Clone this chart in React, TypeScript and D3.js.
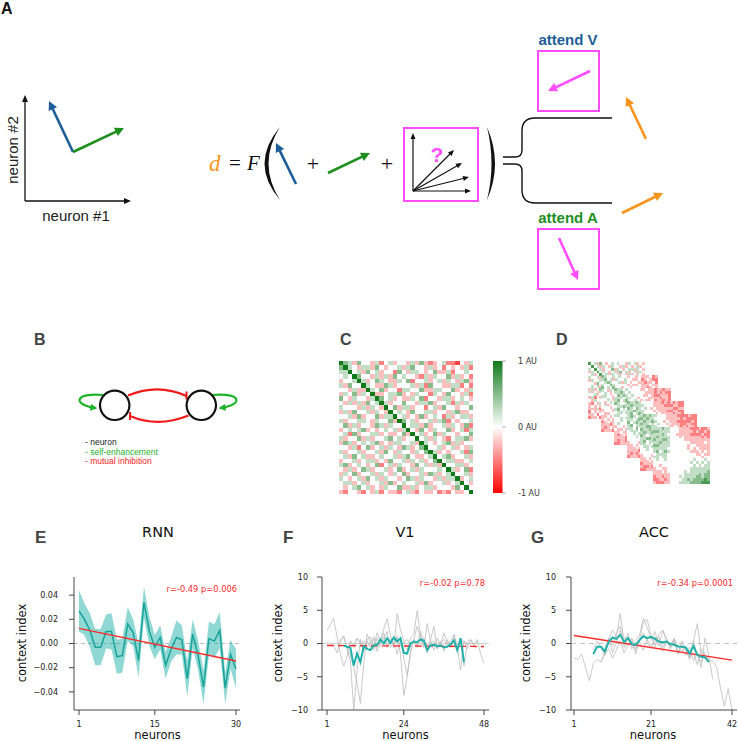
import React from "react";
import * as d3 from "d3";

// ================= DATA =================
// Panel E (RNN): mean context index per neuron and half-width of shaded band
const rnnMean = [0.027, 0.020, 0.011, -0.003, -0.003, 0.010, 0.010, -0.011, -0.010, 0.016,
  0.009, -0.014, 0.034, 0.010, -0.003, 0.005, -0.018, -0.005, 0.005, 0.003,
  -0.029, 0.008, -0.010, -0.036, 0.004, 0.002, 0.011, -0.037, -0.009, -0.021];
const rnnHalfBand = [0.017, 0.013, 0.014, 0.015, 0.015, 0.014, 0.015, 0.014, 0.014, 0.014,
  0.011, 0.014, 0.013, 0.012, 0.010, 0.010, 0.011, 0.010, 0.014, 0.012,
  0.015, 0.012, 0.012, 0.014, 0.014, 0.014, 0.015, 0.013, 0.012, 0.016];
const rnnFit = [0.0125, -0.0145];
const rnnTicksX = [1, 15, 30];
const rnnTicksY = [-0.04, -0.02, 0, 0.02, 0.04];
const rnnStat = "r=-0.49 p=0.006";

// Panel F (V1)
const v1MeanStart = 6;
const v1Mean = [-0.3, -0.5, -0.6, -3.3, -1.5, -2.8, -0.4, -0.8, -1.0, -0.3,
  -0.2, 0.6, 0.0, 0.8, 0.1, 0.9, 0.3, 0.8, -1.4, -1.5,
  0.0, 0.3, 0.2, 0.6, 0.4, -1.0, -0.3, -0.2, -0.4, -0.3,
  -0.6, -0.5, -0.1, 0.5, -1.0, 0.8, -2.8];
const v1Sessions = [
  { start: 1, values: [2.0, 2.8, 3.8, 1.0, -1.6, -3.4, -2.0, 0.4, -0.6, 0.8, 0.2, -1.2, 0.6, 1.0, -0.4, 1.6, 0.4, 2.2, 3.7, 1.2, -0.6, 4.5, 2.0, 0.4, -1.0, 0.8, 1.4, 4.9, 1.2, -0.4] },
  { start: 3, values: [-0.4, -1.4, 0.6, 1.2, -0.8, -2.6, -10.0, -4.0, 0.6, -0.8, 0.4, -0.6, 1.0, -1.2, 0.2, 1.6, -0.4, 0.8, -0.2, 1.2, -1.6, -7.8, -5.0, -1.2, 0.6, -0.4, 1.8, 0.2, -1.4, 0.6, 2.6, -0.8, 0.4, -1.2, 0.6, -0.6, 1.4, -0.4, -4.0, 0.4, -0.8, 0.6, -0.2, 0.4] },
  { start: 5, values: [0.2, 1.0, -0.6, -1.8, -3.6, -6.0, -9.0, -3.0, 1.4, 0.2, -1.0, 0.8, -0.4, 0.6, 1.8, -0.6, 0.2, -1.6, 0.4, -2.2, -4.8, -1.4, 0.6, 2.6, 0.8, -0.6, 3.0, 0.4, -1.0, 0.8, -0.4, 1.6, 0.2, -0.6, 0.4, -1.2, 0.6, -3.4, 0.2, 0.6, -0.4, 0.6, -1.6, -3.0] },
  { start: 8, values: [0.4, -0.4, 0.8, -0.2, 0.4, -0.6, 0.2, 0.6, -0.4, 0.2, 1.0, -0.6, 0.4, -0.2, 0.8, -0.4, 0.2, 0.6, -0.2, 0.4, -0.6, 0.2, 0.8, -0.4, 0.2, 0.4, -0.8, 0.2, 0.6, -0.2, 0.4, 1.2, -0.6, 0.2, 0.4, -0.2, 0.2] },
];
const v1Fit = [-0.3, -0.45];
const v1TicksX = [1, 24, 48];
const v1Stat = "r=-0.02 p=0.78";

// Panel G (ACC)
const accMeanStart = 6;
const accMean = [-1.6, -0.5, -0.5, -1.2, 0.2, 0.9, 0.7, 1.3, 0.2, 0.8,
  -0.1, -0.2, 0.5, 1.1, 0.8, 1.0, 0.7, 0.3, 0.2, 0.3,
  -0.1, -0.2, -0.45, -0.5, -0.6, -1.5, -0.4, -1.7, -2.0, -2.1, -2.8];
const accSessions = [
  { start: 1, values: [-2.2, -2.4, -1.6, -3.6, -5.6, -3.0, -2.4, -2.8, -1.6, -0.8, -2.2, -1.0, 0.4, -1.4, -0.2, 0.8, -0.6, 0.2, -1.0, 0.6, -0.4, 0.2, 1.0, -0.6, 0.4, -0.8, 0.6, -0.2, -1.2, -0.6, -2.0, 0.4, 3.0, -1.4, -1.6, -2.6, -2.6, -3.6, -6.6, -9.4, -6.8, -10.0] },
  { start: 6, values: [-1.0, 0.4, -0.6, -1.8, 0.6, 2.0, 1.0, 4.5, 0.2, 1.6, -0.8, 0.4, 1.2, 3.8, 2.4, 0.6, 1.8, -0.4, 2.0, 0.8, -0.6, 0.2, -1.2, -0.4, -1.8, -0.6, -2.6, -1.4, -3.6, 0.8, -1.8, -5.4] },
  { start: 8, values: [-2.8, -1.2, 0.8, -0.4, 1.6, 2.6, -0.6, 1.0, 0.2, -1.0, 0.6, 3.2, 3.6, 1.2, -0.6, 1.4, 2.0, 0.4, -0.2, 0.8, -1.6, 0.4, -1.0, -2.2, -1.4, -3.2, -0.8, -2.0, -2.4] },
  { start: 9, values: [-0.6, 0.8, -1.4, 0.2, 2.0, 1.0, -0.2, 0.6, -1.6, 0.4, 1.6, 0.2, -0.8, 1.0, 0.4, -1.2, 0.2, -0.4, 0.6, -1.6, -0.2, -0.8, -2.4, 0.4, -1.8, -2.8, -1.2] },
];
const accFit = [1.2, -2.5];
const accTicksX = [1, 21, 42];
const accStat = "r=-0.34 p=0.0001";
const sessionTicksY = [-10, -5, 0, 5, 10];

// Panel C: connectivity matrix, levels 0..8 (0 = -1 AU, 4 = 0 AU, 8 = 1 AU)
const cMatrix = [
  "86536 44352 45344 35363 23452 21435",
  "68543 55364 34453 56443 53424 34352",
  "55845 36453 44264 35543 46335 24454",
  "45486 44353 53645 44325 35446 35342",
  "34458 53465 43354 62445 34535 43563",
  "53644 85433 65344 45352 64433 55242",
  "44353 38546 34425 54463 35544 63435",
  "35463 54833 45563 43544 25436 44352",
  "64354 43586 45343 35462 44355 34543",
  "43535 36458 53446 44355 63445 25354",
  "54443 53543 84635 53442 45364 43446",
  "35364 45354 38454 36445 53443 56334",
  "44536 34463 55845 34363 45425 34553",
  "53445 54354 46386 45344 53562 43445",
  "46353 44365 35448 45536 34453 54362",
  "34545 63434 54535 84364 35446 34525",
  "45263 44553 43346 38453 46354 43446",
  "53446 35344 56453 44845 35432 45563",
  "36534 54563 43554 45385 43456 35344",
  "44352 46345 35436 53468 44534 53435",
  "53445 34453 64354 43546 85343 44526",
  "45364 53345 44535 64334 58456 34453",
  "34453 45534 36445 35453 46845 53345",
  "56345 43462 45354 43645 35384 45534",
  "43534 65344 53463 45354 44548 53462",
  "35463 44535 43546 34453 65345 84453",
  "54345 36453 54434 65354 43535 58345",
  "45534 53445 36345 44536 34453 45843",
  "43456 45343 54463 35345 53444 36484",
  "32443 24352 43324 53243 34232 43348",
];
const cbTicks = [-1, 0, 1];
const cbLabels = ["-1 AU", "0 AU", "1 AU"];

// Panel D: stacked matrices (back to front); back ones only their visible strips
const dStack0 = [
  "74536 43454 54435 45343", "47453 54354 43534 34534", "54745 34463 54345 53543",
  "35474 54345 36453 45354", "45347 45354 53435 34543",
  "54453", "35445", "44364", "45453", "35346", "53435", "44534", "35243", "43544",
  "32435", "34343", "33352", "24343", "33424", "23342"];
const dStack1 = [
  "65445 45443 44343 33423", "56453 54454 43342 34322", "45654 45354 34433 23342",
  "54465 44443 43343 33433", "64546 44344 34443 32343",
  "54354", "45434", "55443", "44543", "43454", "45344", "44434", "34443", "43344",
  "33434", "34343", "23433", "33323", "32343", "23332"];
const dStack2 = [
  "65545 44443 34332 33233", "55654 54444 43332 32322", "46565 45444 33432 23332",
  "55545 54434 44333 32332", "56456 44543 43342 33232",
  "65445", "45565", "56454", "45545", "55444", "44545", "44544", "45444", "34434",
  "43343", "33433", "32343", "33332", "32332", "22333"];
const dStack3 = [
  "65565 44443 33232 32322", "56555 54443 33322 23322", "65465 45434 33333 32233",
  "55655 54443 43332 23322", "56456 54444 34333 32332",
  "56545", "55456", "64565", "56455", "55464", "45554", "44545", "44454", "44444",
  "34443", "33434", "33343", "33332", "32323", "23332"];
const dStack4 = [
  "56565 54443 33322 22322", "65655 44443 33332 32222", "56556 54434 33322 22232",
  "65545 45443 43332 23322", "55665 54444 33432 32332",
  "65565", "56556", "65455", "55665", "56455", "55454", "45545", "44544", "44444",
  "34443", "33434", "33343", "23333", "32232", "22333"];
const dStack5 = [
  "55565 54443 33322 23223", "66555 54443 33332 32232", "55565 44433 33322 22322",
  "56555 54443 43333 33232", "65566 54444 43333 33333", "55655 54444 44433 33343",
  "66555 54444 44344 33333", "55555 44444 44343 43333", "56456 54444 44433 34343",
  "45555 44444 44444 33433", "55455 44444 44444 44344", "45445 44444 44445 44454",
  "44444 44444 44454 54545", "44344 44444 44445 45455", "34433 44444 44455 55555",
  "33343 44444 45455 55556", "33333 34444 45555 56566", "23323 34445 45555 66566",
  "22332 34444 55656 66676", "32223 34445 55566 66777"];
const dStacks = [dStack0, dStack1, dStack2, dStack3, dStack4, dStack5];

// Panel A: diagram vectors [dx, dy]
const visualVec = [-24, -51];
const auditoryVec = [51, -24];
const eqVisualVec = [-20, -41];
const eqAuditoryVec = [42, -20];
const contextFan = [[41, -41], [49, -28], [56, -14], [58, 0]];
const attendVVec = [-42, 20];
const attendAVec = [19, 42];
const decisionVVec = [-20, -42];
const decisionAVec = [41, -20];

// ================= COLORS =================
const BLUE = "#1d5e99";
const GREEN = "#1e8f1e";
const ORANGE = "#f7941d";
const MAGENTA = "#ff4dff";
const TEAL = "#20b2aa";
const TEAL_LINE = "#17a398";
const RED = "#ff2b2b";
const GREY_TRACE = "#bdbdbd";
const SANS = "'Liberation Sans', Arial, sans-serif";
const DV = "'DejaVu Sans', sans-serif";

const heatColor = (lvl: number) => {
  const v = (lvl - 4) / 4;
  return v >= 0
    ? d3.interpolateRgb("#ffffff", "#10791a")(v)
    : d3.interpolateRgb("#ffffff", "#ff0000")(-v);
};
const parseRow = (s: string) => s.replace(/\s/g, "").split("").map(Number);

function Arrow({ x, y, v, color, w = 2.6, head = 9, hw = 4.6 }: any) {
  const x2 = x + v[0], y2 = y + v[1];
  const L = Math.hypot(v[0], v[1]);
  const ux = v[0] / L, uy = v[1] / L;
  const bx = x2 - ux * head, by = y2 - uy * head;
  const px = -uy, py = ux;
  return (
    <g>
      <line x1={x} y1={y} x2={bx + ux} y2={by + uy} stroke={color} strokeWidth={w} />
      <polygon points={`${x2},${y2} ${bx + px * hw},${by + py * hw} ${bx - px * hw},${by - py * hw}`} fill={color} />
    </g>
  );
}

function PanelA() {
  const ox = 73, oy = 152;
  const fx = 413, fy = 191;
  return (
    <g>
      <text x={1} y={14} fontFamily={SANS} fontWeight="bold" fontSize={16} fill="#111">A</text>
      <line x1={25} y1={201} x2={25} y2={101} stroke="#111" strokeWidth={1.3} />
      <polygon points="25,95 22,102 28,102" fill="#111" />
      <line x1={25} y1={201} x2={124} y2={201} stroke="#111" strokeWidth={1.3} />
      <polygon points="131,201 124,198 124,204" fill="#111" />
      <Arrow x={ox} y={oy} v={visualVec} color={BLUE} />
      <Arrow x={ox} y={oy} v={auditoryVec} color={GREEN} />
      <text transform="translate(13,150) rotate(-90)" textAnchor="middle" dy="0.35em" fontFamily={SANS} fontSize={15} fill="#222">neuron #2</text>
      <text x={76} y={221} textAnchor="middle" fontFamily={SANS} fontSize={15} fill="#222">neuron #1</text>

      <text x={209} y={171} fontFamily="'Liberation Serif', serif" fontStyle="italic" fontSize={23} fill={ORANGE}>d</text>
      <text x={229} y={170} fontFamily="'Liberation Serif', serif" fontSize={21} fill="#111">=</text>
      <text x={247} y={170} fontFamily="'Liberation Serif', serif" fontStyle="italic" fontSize={21} fill="#111">F</text>
      <path d="M280,127 Q249,163.5 280,200 Q257,163.5 280,127 Z" fill="#111" />
      <Arrow x={296} y={184} v={eqVisualVec} color={BLUE} />
      <text x={313} y={171} textAnchor="middle" fontFamily="'Liberation Serif', serif" fontSize={22} fill="#111">+</text>
      <Arrow x={328} y={173} v={eqAuditoryVec} color={GREEN} />
      <text x={387} y={171} textAnchor="middle" fontFamily="'Liberation Serif', serif" fontSize={22} fill="#111">+</text>
      <rect x={404} y={128} width={74} height={73} fill="none" stroke={MAGENTA} strokeWidth={2} />
      <line x1={fx} y1={fy} x2={fx} y2={138} stroke="#111" strokeWidth={1.2} />
      <polygon points={`${fx},133 ${fx - 2.5},139 ${fx + 2.5},139`} fill="#111" />
      {contextFan.map((v, i) => (
        <Arrow key={i} x={fx} y={fy} v={v} color="#111" w={1.2} head={6} hw={2.6} />
      ))}
      <text x={437} y={162} textAnchor="middle" fontFamily={SANS} fontWeight="bold" fontSize={21} fill={MAGENTA}>?</text>
      <path d="M487,127 Q503,163.5 487,200 Q496,163.5 487,127 Z" fill="#111" />

      <path d="M612,118 L535,118 Q522,118 522,131 L522,150 Q522,157 515,157 L503,157 M503,164 L515,164 Q522,164 522,171 L522,190 Q522,203 535,203 L612,203"
        fill="none" stroke="#111" strokeWidth={1.4} />

      <text x={568} y={45} textAnchor="middle" fontFamily={SANS} fontWeight="bold" fontSize={15} fill={BLUE}>attend V</text>
      <rect x={538} y={51} width={61} height={60} fill="none" stroke={MAGENTA} strokeWidth={2} />
      <Arrow x={590} y={71} v={attendVVec} color={MAGENTA} />
      <text x={568} y={223} textAnchor="middle" fontFamily={SANS} fontWeight="bold" fontSize={15} fill={GREEN}>attend A</text>
      <rect x={538} y={229} width={61} height={60} fill="none" stroke={MAGENTA} strokeWidth={2} />
      <Arrow x={559} y={238} v={attendAVec} color={MAGENTA} />
      <Arrow x={646} y={139} v={decisionVVec} color={ORANGE} />
      <Arrow x={622} y={213} v={decisionAVec} color={ORANGE} />
    </g>
  );
}

function PanelB() {
  const lx = 114.7, rx = 201.3, cy = 405.3, r = 14.7;
  return (
    <g>
      <defs>
        <marker id="gh" viewBox="0 0 10 10" refX="8" refY="5" markerWidth="3.2" markerHeight="3.2" orient="auto">
          <path d="M0,0 L10,5 L0,10 Z" fill="#1db32a" />
        </marker>
      </defs>
      <text x={34} y={345} fontFamily={SANS} fontWeight="bold" fontSize={16} fill="#444">B</text>
      <path d="M128,395.5 Q158,383 186.5,396" fill="none" stroke="#f21b1b" strokeWidth={2.2} />
      <line x1={186.5} y1={391.5} x2={186.5} y2={399.5} stroke="#f21b1b" strokeWidth={2} />
      <path d="M188.5,415.5 Q158,428 130,416" fill="none" stroke="#f21b1b" strokeWidth={2.2} />
      <line x1={130} y1={412} x2={130} y2={420} stroke="#f21b1b" strokeWidth={2} />
      <path d="M104,395 C74,392 72,405 96,408" fill="none" stroke="#1db32a" strokeWidth={2.2} markerEnd="url(#gh)" />
      <path d="M212,395 C242,392 244,405 220,408" fill="none" stroke="#1db32a" strokeWidth={2.2} markerEnd="url(#gh)" />
      <circle cx={lx} cy={cy} r={r} fill="none" stroke="#111" strokeWidth={2.2} />
      <circle cx={rx} cy={cy} r={r} fill="none" stroke="#111" strokeWidth={2.2} />
      <text x={85} y={445} fontFamily={SANS} fontSize={8.5} fill="#222">- neuron</text>
      <text x={85} y={454.5} fontFamily={SANS} fontSize={8.5} fill="#1db32a">- self-enhancement</text>
      <text x={85} y={464} fontFamily={SANS} fontSize={8.5} fill="#f21b1b">- mutual inhibition</text>
    </g>
  );
}

function PanelC() {
  const n = cMatrix.length;
  const colBand = d3.scaleBand<number>().domain(d3.range(n)).range([339, 473]);
  const rowBand = d3.scaleBand<number>().domain(d3.range(n)).range([361, 494]);
  const cbY = d3.scaleLinear().domain([-1, 1]).range([493, 361]);
  return (
    <g>
      <defs>
        <linearGradient id="cbar" x1="0" y1="0" x2="0" y2="1">
          <stop offset="0%" stopColor={heatColor(8)} />
          <stop offset="50%" stopColor={heatColor(4)} />
          <stop offset="100%" stopColor={heatColor(0)} />
        </linearGradient>
      </defs>
      <text x={340} y={345} fontFamily={SANS} fontWeight="bold" fontSize={16} fill="#444">C</text>
      <g shapeRendering="crispEdges">
        {cMatrix.map((row, i) =>
          parseRow(row).map((lvl, j) => (
            <rect key={`${i}-${j}`} x={colBand(j)} y={rowBand(i)} width={colBand.bandwidth() + 0.4} height={rowBand.bandwidth() + 0.4} fill={heatColor(lvl)} />
          ))
        )}
      </g>
      <rect x={493} y={cbY(1)} width={9.5} height={cbY(-1) - cbY(1)} fill="url(#cbar)" />
      {cbTicks.map((t, i) => (
        <g key={t}>
          <line x1={502.5} x2={505.5} y1={cbY(t)} y2={cbY(t)} stroke="#888" strokeWidth={0.8} />
          <text x={518} y={cbY(t)} dy="0.35em" fontFamily={DV} fontSize={8} fill="#333">{cbLabels[i]}</text>
        </g>
      ))}
    </g>
  );
}

function PanelD() {
  const size = 57, step = 13, n = 20, cs = size / n;
  return (
    <g>
      <text x={556} y={345} fontFamily={SANS} fontWeight="bold" fontSize={16} fill="#444">D</text>
      <g shapeRendering="crispEdges">
        {dStacks.map((m, k) => {
          const x0 = 588 + step * k, y0 = 362 + step * k;
          return (
            <g key={k}>
              <rect x={x0} y={y0} width={size} height={size} fill="#fff" />
              {m.map((row, i) =>
                parseRow(row).map((lvl, j) => (
                  <rect key={`${i}-${j}`} x={x0 + j * cs} y={y0 + i * cs} width={cs + 0.3} height={cs + 0.3} fill={heatColor(lvl)} />
                ))
              )}
            </g>
          );
        })}
      </g>
    </g>
  );
}

function LinePanel(props: any) {
  const { label, labelX, title, titleX, axisX, axisRight, xDomain, xRange, yDomain, xTicks, yTicks, yFmt,
    ylabelX, statX, statY, stat, children, tickGap } = props;
  const x = d3.scaleLinear().domain(xDomain).range(xRange);
  const y = d3.scaleLinear().domain(yDomain).range([710, 577]);
  return (
    <g>
      <text x={labelX} y={543} fontFamily={SANS} fontWeight="bold" fontSize={17} fill="#444">{label}</text>
      <text x={titleX} y={537} textAnchor="middle" fontFamily={DV} fontSize={14.5} fill="#111">{title}</text>
      {children(x, y)}
      <line x1={axisX} x2={axisX} y1={577} y2={710} stroke="#333" strokeWidth={0.9} />
      <line x1={axisX} x2={axisRight} y1={710} y2={710} stroke="#333" strokeWidth={0.9} />
      {yTicks.map((t: number) => (
        <g key={t}>
          <line x1={axisX - 5} x2={axisX} y1={y(t)} y2={y(t)} stroke="#333" strokeWidth={0.9} />
          <text x={axisX - tickGap} y={y(t)} dy="0.35em" textAnchor="end" fontFamily={DV} fontSize={8} fill="#222">{yFmt(t)}</text>
        </g>
      ))}
      {xTicks.map((t: number) => (
        <g key={t}>
          <line x1={x(t)} x2={x(t)} y1={710} y2={715} stroke="#333" strokeWidth={0.9} />
          <text x={x(t)} y={727} textAnchor="middle" fontFamily={DV} fontSize={8} fill="#222">{t}</text>
        </g>
      ))}
      <text transform={`translate(${ylabelX},643) rotate(-90)`} textAnchor="middle" dy="0.35em" fontFamily={DV} fontSize={11.5} fill="#111">context index</text>
      <text x={(xRange[0] + xRange[1]) / 2} y={739} textAnchor="middle" fontFamily={DV} fontSize={11.5} fill="#111">neurons</text>
      <text x={statX} y={statY} textAnchor="end" fontFamily={DV} fontSize={8.3} fill={RED}>{stat}</text>
    </g>
  );
}

const fmtSigned = (v: number, d: number) => (v < 0 ? "\u2212" : "") + Math.abs(v).toFixed(d);

function Sessions({ x, y, sessions }: any) {
  return (
    <g>
      {sessions.map((s: any, k: number) => {
        const gen = d3.line<number>().x((_, i) => x(s.start + i)).y((v) => y(v));
        return <path key={k} d={gen(s.values)!} fill="none" stroke={GREY_TRACE} strokeWidth={0.8} />;
      })}
    </g>
  );
}

export default function App() {
  return (
    <div style={{ position: "absolute", left: 0, top: 0 }}>
      <svg width={738} height={741} viewBox="0 0 738 741" style={{ display: "block", background: "#fff" }}>
        <rect width={738} height={741} fill="#fff" />
        <PanelA />
        <PanelB />
        <PanelC />
        <PanelD />

        <LinePanel label="E" labelX={35} title="RNN" titleX={158} axisX={74} axisRight={240}
          xDomain={[1, 30]} xRange={[79, 236]} yDomain={[-0.055, 0.055]} xTicks={rnnTicksX} yTicks={rnnTicksY}
          yFmt={(v: number) => fmtSigned(v, 2)} ylabelX={22} statX={237} statY={592} stat={rnnStat} tickGap={16}>
          {(x: any, y: any) => {
            const area = d3.area<number>().x((_, i) => x(i + 1)).y0((v, i) => y(v - rnnHalfBand[i])).y1((v, i) => y(v + rnnHalfBand[i]));
            const line = d3.line<number>().x((_, i) => x(i + 1)).y((v) => y(v));
            return (
              <g>
                <line x1={74} x2={240} y1={y(0)} y2={y(0)} stroke="#aaa" strokeWidth={0.8} strokeDasharray="4,3" />
                <path d={area(rnnMean)!} fill={TEAL} fillOpacity={0.5} />
                <path d={line(rnnMean)!} fill="none" stroke={TEAL_LINE} strokeWidth={1.5} />
                <line x1={x(1)} x2={x(30)} y1={y(rnnFit[0])} y2={y(rnnFit[1])} stroke={RED} strokeWidth={1.4} />
              </g>
            );
          }}
        </LinePanel>

        <LinePanel label="F" labelX={283} title="V1" titleX={405} axisX={322} axisRight={489}
          xDomain={[1, 48]} xRange={[327, 484]} yDomain={[-10, 10]} xTicks={v1TicksX} yTicks={sessionTicksY}
          yFmt={(v: number) => fmtSigned(v, 0)} ylabelX={278} statX={485} statY={586} stat={v1Stat} tickGap={14}>
          {(x: any, y: any) => {
            const line = d3.line<number>().x((_, i) => x(v1MeanStart + i)).y((v) => y(v));
            return (
              <g>
                <line x1={322} x2={489} y1={y(0)} y2={y(0)} stroke="#ccc" strokeWidth={0.9} />
                <Sessions x={x} y={y} sessions={v1Sessions} />
                <line x1={x(1)} x2={x(48)} y1={y(v1Fit[0])} y2={y(v1Fit[1])} stroke={RED} strokeWidth={1.4} strokeDasharray="7,4" />
                <path d={line(v1Mean)!} fill="none" stroke={TEAL} strokeWidth={2} />
              </g>
            );
          }}
        </LinePanel>

        <LinePanel label="G" labelX={531} title="ACC" titleX={654} axisX={571} axisRight={737}
          xDomain={[1, 42]} xRange={[574, 732]} yDomain={[-10, 10]} xTicks={accTicksX} yTicks={sessionTicksY}
          yFmt={(v: number) => fmtSigned(v, 0)} ylabelX={526} statX={733} statY={586} stat={accStat} tickGap={15}>
          {(x: any, y: any) => {
            const line = d3.line<number>().x((_, i) => x(accMeanStart + i)).y((v) => y(v));
            return (
              <g>
                <line x1={571} x2={737} y1={y(0)} y2={y(0)} stroke="#bbb" strokeWidth={0.9} strokeDasharray="5,4" />
                <Sessions x={x} y={y} sessions={accSessions} />
                <line x1={x(1)} x2={x(42)} y1={y(accFit[0])} y2={y(accFit[1])} stroke={RED} strokeWidth={1.4} />
                <path d={line(accMean)!} fill="none" stroke={TEAL} strokeWidth={2} />
              </g>
            );
          }}
        </LinePanel>
      </svg>
    </div>
  );
}
